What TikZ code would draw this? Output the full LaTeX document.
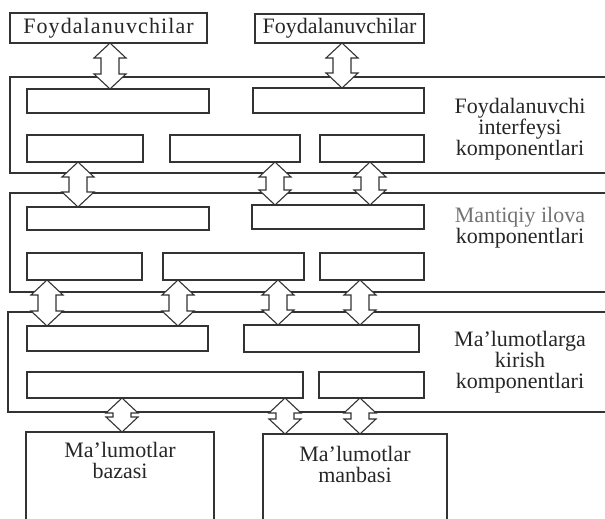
\documentclass[tikz,border=0pt]{standalone}
\usepackage{fontspec}
\setmainfont{Liberation Serif}
\usetikzlibrary{calc}
\begin{document}
\begin{tikzpicture}[x=1pt,y=-1pt,
  line width=1.1pt,
  ink/.style={draw=black!80},
  cbox/.style={ink, rectangle, anchor=north west, inner sep=0pt, outer sep=0pt},
  txt/.style={align=center, font=\fontsize{22}{21}\selectfont, text=black!85},
  layer/.style={ink},
  blockarrow/.style={ink, fill=white, line join=miter, to path={
     let \p1=(\tikztostart), \p2=(\tikztotarget) in
     -- (\x1+16pt,\y1-15pt) -- (\x1+9pt,\y1-15pt) -- (\x1+9pt,\y2+15pt)
     -- (\x1+16pt,\y2+15pt) -- (\tikztotarget) -- (\x1-16pt,\y2+15pt)
     -- (\x1-9pt,\y2+15pt) -- (\x1-9pt,\y1-15pt) -- (\x1-16pt,\y1-15pt) -- cycle}},
]
\useasboundingbox (0,0) rectangle (605,519);

% users
\node[cbox, txt, minimum width=197pt, minimum height=30pt] (tb1) at (10,13) {\addfontfeature{LetterSpace=5}Foydalanuvchilar};
\node[cbox, txt, minimum width=169pt, minimum height=29pt] (tb2) at (255,14) {Foydalanuvchilar};

% layer frames, open to the right
\draw[layer] (610,77) -| (10,173) -- (610,173);
\draw[layer] (610,193) -| (10,292) -- (610,292);
\draw[layer] (610,312) -| (8,412) -- (610,412);

% user interface components
\node[cbox, minimum width=182pt, minimum height=24pt] (r1a) at (27,89) {};
\node[cbox, minimum width=171pt, minimum height=25pt] (r1b) at (253,88) {};
\node[cbox, minimum width=116pt, minimum height=27pt] (r2a) at (27,135) {};
\node[cbox, minimum width=130pt, minimum height=27pt] (r2b) at (170,135) {};
\node[cbox, minimum width=104pt, minimum height=27pt] (r2c) at (320,135) {};
\node[txt] (lay1) at (520,129) {Foydalanuvchi\\interfeysi\\komponentlari};

% application logic components
\node[cbox, minimum width=182pt, minimum height=23pt] (s1a) at (27,207) {};
\node[cbox, minimum width=172pt, minimum height=24pt] (s1b) at (252,205) {};
\node[cbox, minimum width=115pt, minimum height=27pt] (s2a) at (27,253) {};
\node[cbox, minimum width=141pt, minimum height=27pt] (s2b) at (163,253) {};
\node[cbox, minimum width=104pt, minimum height=27pt] (s2c) at (320,253) {};
\node[txt] (lay2) at (520,228) {\textcolor{black!55}{Mantiqiy ilova}\\komponentlari};

% data access components
\node[cbox, minimum width=181pt, minimum height=25pt] (t1a) at (27,326) {};
\node[cbox, minimum width=175pt, minimum height=27pt] (t1b) at (244,325) {};
\node[cbox, minimum width=276pt, minimum height=26pt] (t2a) at (27,372) {};
\node[cbox, minimum width=105pt, minimum height=26pt] (t2b) at (319,372) {};
\node[txt] (lay3) at (520,362) {Ma’lumotlarga\\kirish\\komponentlari};

% data stores (run past the lower edge)
\node[cbox, minimum width=188pt, minimum height=110pt] (db) at (26,432) {};
\node[cbox, minimum width=184pt, minimum height=110pt] (ms) at (263,434) {};
\node[txt] (dbt) at ([yshift=-28pt]db.north) {Ma’lumotlar\\bazasi};
\node[txt] (mst) at ([yshift=-30pt]ms.north) {Ma’lumotlar\\manbasi};

% arrow columns
\coordinate (a1) at (110,0);
\coordinate (a2) at (342,0);
\coordinate (a3) at (78,0);
\coordinate (a4) at (275,0);
\coordinate (a5) at (370,0);
\coordinate (a6) at (47,0);
\coordinate (a7) at (178,0);
\coordinate (a8) at (278,0);
\coordinate (a9) at (360,0);
\coordinate (a10) at (122,0);
\coordinate (a11) at (285,0);
\coordinate (a12) at (360,0);

% two-way block arrows
\draw[blockarrow] (tb1.south -| a1) to (r1a.north -| a1);
\draw[blockarrow] (tb2.south -| a2) to (r1b.north -| a2);
\draw[blockarrow] (r2a.south -| a3) to (s1a.north -| a3);
\draw[blockarrow] (r2b.south -| a4) to (s1b.north -| a4);
\draw[blockarrow] (r2c.south -| a5) to (s1b.north -| a5);
\draw[blockarrow] (s2a.south -| a6) to (t1a.north -| a6);
\draw[blockarrow] (s2b.south -| a7) to (t1a.north -| a7);
\draw[blockarrow] (s2b.south -| a8) to (t1b.north -| a8);
\draw[blockarrow] (s2c.south -| a9) to (t1b.north -| a9);
\draw[blockarrow] (t2a.south -| a10) to (db.north -| a10);
\draw[blockarrow] (t2a.south -| a11) to (ms.north -| a11);
\draw[blockarrow] (t2b.south -| a12) to (ms.north -| a12);
\end{tikzpicture}
\end{document}
